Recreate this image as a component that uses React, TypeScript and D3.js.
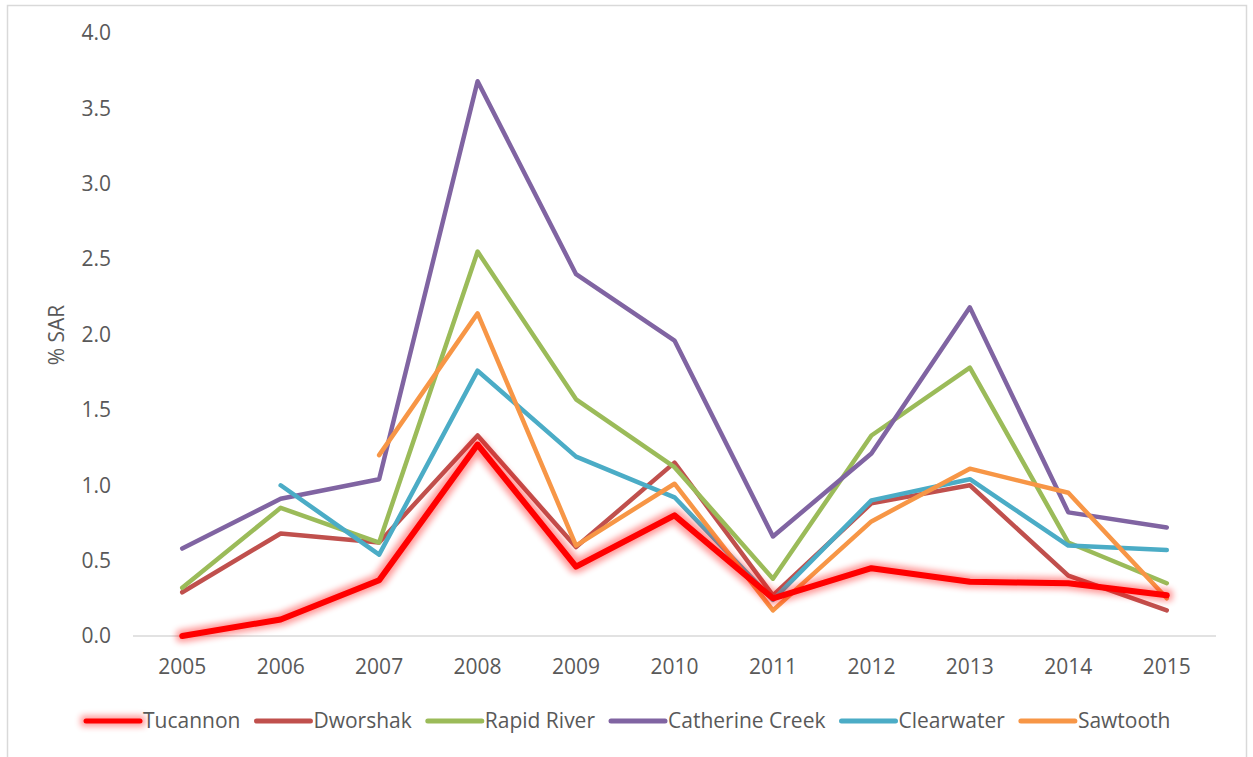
import React, { useEffect, useRef } from "react"
import * as d3 from "d3"

const years = ["2005", "2006", "2007", "2008", "2009", "2010", "2011", "2012", "2013", "2014", "2015"]
const yTicks = [0, 0.5, 1, 1.5, 2, 2.5, 3, 3.5, 4]

// null = no value for that year
const tucannon = [0.0, 0.11, 0.37, 1.27, 0.46, 0.8, 0.25, 0.45, 0.36, 0.35, 0.27]
const dworshak = [0.29, 0.68, 0.62, 1.33, 0.59, 1.15, 0.27, 0.88, 1.0, 0.4, 0.17]
const rapidRiver = [0.32, 0.85, 0.62, 2.55, 1.57, 1.12, 0.38, 1.33, 1.78, 0.62, 0.35]
const catherineCreek = [0.58, 0.91, 1.04, 3.68, 2.4, 1.96, 0.66, 1.21, 2.18, 0.82, 0.72]
const clearwater = [null, 1.0, 0.54, 1.76, 1.19, 0.92, 0.24, 0.9, 1.04, 0.6, 0.57]
const sawtooth = [null, null, 1.2, 2.14, 0.6, 1.01, 0.17, 0.76, 1.11, 0.95, 0.25]

const seriesNames = ["Tucannon", "Dworshak", "Rapid River", "Catherine Creek", "Clearwater", "Sawtooth"]
const seriesColors = ["#FF0000", "#C0504D", "#9BBB59", "#8064A2", "#4BACC6", "#F79646"]

interface Series {
    name: string,
    color: string,
    values: (number | null)[],
    glow?: boolean,
}

const series: Series[] = [
    { name: seriesNames[0], color: seriesColors[0], values: tucannon, glow: true },
    { name: seriesNames[1], color: seriesColors[1], values: dworshak },
    { name: seriesNames[2], color: seriesColors[2], values: rapidRiver },
    { name: seriesNames[3], color: seriesColors[3], values: catherineCreek },
    { name: seriesNames[4], color: seriesColors[4], values: clearwater },
    { name: seriesNames[5], color: seriesColors[5], values: sawtooth },
]

const width = 1253
const height = 757
const margin = { left: 133, right: 1216, top: 33, bottom: 636 }
const font = "'Open Sans', sans-serif"
const fontSize = 21
const textColor = "#595959"

export default function App() {
    const svgRef = useRef<SVGSVGElement>(null)

    useEffect(() => {
        if (!svgRef.current) return
        const svg = d3.select(svgRef.current)
        svg.selectAll("*").remove()

        const x = d3.scaleBand<string>()
            .domain(years)
            .range([margin.left, margin.right])
        const y = d3.scaleLinear()
            .domain([0, 4])
            .range([margin.bottom, margin.top])

        // soft glow for the highlighted series (user space so flat lines keep it)
        const defs = svg.append("defs")
        const filter = defs.append("filter")
            .attr("id", "glow")
            .attr("filterUnits", "userSpaceOnUse")
            .attr("x", 0).attr("y", 0)
            .attr("width", width).attr("height", height)
        filter.append("feMorphology")
            .attr("in", "SourceGraphic")
            .attr("operator", "dilate")
            .attr("radius", 2.5)
            .attr("result", "thick")
        filter.append("feGaussianBlur")
            .attr("in", "thick")
            .attr("stdDeviation", 3)
            .attr("result", "blur")
        filter.append("feComponentTransfer")
            .attr("in", "blur")
            .attr("result", "faint")
            .append("feFuncA")
            .attr("type", "linear")
            .attr("slope", 0.4)
        const merge = filter.append("feMerge")
        merge.append("feMergeNode").attr("in", "faint")
        merge.append("feMergeNode").attr("in", "SourceGraphic")

        // chart border
        svg.append("rect")
            .attr("x", 7.5).attr("y", 5.5)
            .attr("width", 1239).attr("height", 770)
            .attr("fill", "none")
            .attr("stroke", "#D9D9D9")
            .attr("stroke-width", 1.5)

        // x axis line
        svg.append("line")
            .attr("x1", margin.left).attr("x2", margin.right)
            .attr("y1", y(0)).attr("y2", y(0))
            .attr("stroke", "#D9D9D9")
            .attr("stroke-width", 1.5)

        // y tick labels
        svg.append("g")
            .selectAll("text")
            .data(yTicks)
            .join("text")
            .attr("x", 111)
            .attr("y", d => y(d))
            .attr("dy", "0.35em")
            .attr("text-anchor", "end")
            .attr("font-family", font)
            .attr("font-size", fontSize)
            .attr("fill", textColor)
            .text(d => d.toFixed(1))

        // x tick labels
        svg.append("g")
            .selectAll("text")
            .data(years)
            .join("text")
            .attr("x", d => (x(d) ?? 0) + x.bandwidth() / 2)
            .attr("y", 667)
            .attr("dy", "0.35em")
            .attr("text-anchor", "middle")
            .attr("font-family", font)
            .attr("font-size", fontSize)
            .attr("fill", textColor)
            .text(d => d)

        // y axis title
        svg.append("text")
            .attr("transform", `translate(57, 335) rotate(-90)`)
            .attr("dy", "0.35em")
            .attr("text-anchor", "middle")
            .attr("font-family", font)
            .attr("font-size", fontSize)
            .attr("fill", textColor)
            .text("% SAR")

        const line = d3.line<number | null>()
            .defined(d => d !== null)
            .x((_, i) => (x(years[i]) ?? 0) + x.bandwidth() / 2)
            .y(d => y(d as number))

        // draw highlighted series last
        const order = [...series.slice(1), series[0]]
        svg.append("g")
            .selectAll("path")
            .data(order)
            .join("path")
            .attr("d", d => line(d.values))
            .attr("fill", "none")
            .attr("stroke", d => d.color)
            .attr("stroke-width", d => d.glow ? 6 : 4.5)
            .attr("stroke-linejoin", "round")
            .attr("stroke-linecap", "round")
            .attr("filter", d => d.glow ? "url(#glow)" : null)

        // legend
        const legend = svg.append("g")
        let lx = 86
        const ly = 721
        series.forEach(s => {
            legend.append("line")
                .attr("x1", lx).attr("x2", lx + 54)
                .attr("y1", ly).attr("y2", ly)
                .attr("stroke", s.color)
                .attr("stroke-width", 5)
                .attr("stroke-linecap", "round")
                .attr("filter", s.glow ? "url(#glow)" : null)
            const t = legend.append("text")
                .attr("x", lx + 57)
                .attr("y", ly)
                .attr("dy", "0.35em")
                .attr("font-family", font)
                .attr("font-size", fontSize)
                .attr("fill", textColor)
                .text(s.name)
            const w = (t.node() as SVGTextElement).getComputedTextLength()
            lx += 57 + w + 16
        })
    }, [])

    return (
        <div style={{ position: "absolute", left: 0, top: 0 }}>
            <svg ref={svgRef} width={width} height={height} style={{ display: "block", background: "#fff" }} />
        </div>
    )
}
